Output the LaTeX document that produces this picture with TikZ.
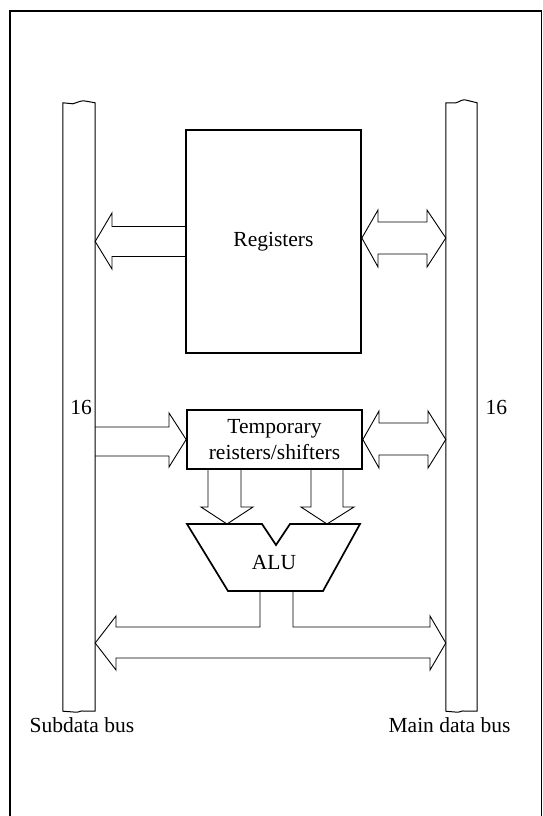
\documentclass[tikz,border=0pt]{standalone}
\usepackage{fontspec}
\setmainfont{Liberation Serif}
\usetikzlibrary{calc,positioning}

\tikzset{
  unitbox/.style={draw, line width=1.7pt, inner sep=0pt, align=center},
  busline/.style={line width=1pt},
  busnode/.style={inner sep=0pt, minimum width=32pt, minimum height=608pt},
  blockarrow/.style={line width=0.9pt, line join=miter},
}

\begin{document}
\begin{tikzpicture}[x=1pt, y=-1pt,
    every node/.style={font=\fontsize{21.5}{26}\selectfont}]
  \useasboundingbox (0,0) rectangle (543,816);
  % outer frame
  \draw[line width=1.1pt] (10,816) -- (10,11) -- (541.5,11) -- (541.5,816);

  % the two buses
  \node[busnode] (sub) at (79,407) {};
  \node[busnode, minimum width=31pt] (main) at (461.5,407) {};
  \draw[busline] (sub.south west) -- (sub.north west) -- ++(10,1)
        .. controls ++(4,-1) and ++(-4,0) .. ++(11,-3) -- (sub.north east)
        -- (sub.south east) -- ++(-11,0) .. controls ++(-4,-1) and ++(4,0) .. ++(-8,1)
        -- cycle;
  \draw[busline] (main.south west) -- (main.north west) -- ++(10,0)
        .. controls ++(4,-1) and ++(-4,0) .. ++(9,-3) -- (main.north east)
        -- (main.south east) -- ++(-12,0) .. controls ++(-4,-1) and ++(4,0) .. ++(-8,1)
        -- cycle;
  \node[below=3pt of sub.south, xshift=3pt] (sublbl) {Subdata bus};
  \node[below=3pt of main.south, xshift=-12pt] (mainlbl) {Main data bus};
  \node[anchor=center] (w1) at (81,407) {16};
  \node[anchor=west] (w2) at (482,407) {16};

  % boxes
  \node[unitbox, minimum width=175pt, minimum height=223pt] (reg) at (273.5,241.5) {Registers};
  \node[unitbox, minimum width=175pt, minimum height=59pt] (tmp) at (274.5,439.5)
        {Temporary\\reisters/shifters};

  % ALU
  \draw[line width=1.7pt, line join=miter] (187,524) -- (262,524) -- (276,545) -- (290,524)
        -- (360,524) -- (323,591) -- (228,591) -- cycle;
  \node (alu) at (274,563) {ALU};

  % registers -> subdata bus
  \draw[blockarrow] ($(reg.west)+(0,-15)$) -- (112,226.5) -- (112,213)
        -- (sub.east |- reg.west) -- (112,269) -- (112,256.5) -- ($(reg.west)+(0,15)$);
  % registers <-> main data bus
  \draw[blockarrow] (reg.east |- 0,238) -- (378,210) -- (378,222) -- (427,222) -- (427,210)
        -- (main.west |- 0,238) -- (427,267) -- (427,254) -- (378,254) -- (378,267) -- cycle;

  % subdata bus -> temporary registers
  \draw[blockarrow] (sub.east |- 0,427) -- (169,427) -- (169,413) -- (tmp.west)
        -- (169,467) -- (169,456) -- (sub.east |- 0,456);
  % temporary registers <-> main data bus
  \draw[blockarrow] (tmp.east) -- (379,411) -- (379,423) -- (428,423) -- (428,411)
        -- (main.west |- tmp.east) -- (428,468) -- (428,455) -- (379,455) -- (379,468) -- cycle;

  % temporary registers -> ALU
  \draw[blockarrow] (tmp.south -| 208,0) -- (208,507) -- (201,507) -- (227,524)
        -- (253,507) -- (241,507) -- (tmp.south -| 241,0);
  \draw[blockarrow] (tmp.south -| 311,0) -- (311,507) -- (301,507) -- (327,524)
        -- (354,507) -- (343,507) -- (tmp.south -| 343,0);

  % ALU -> both buses
  \draw[blockarrow] (260,591) -- (260,627) -- (116,627) -- (116,616) -- (sub.east |- 0,643)
        -- (116,670) -- (116,658) -- (430,658) -- (430,670) -- (main.west |- 0,643)
        -- (430,616) -- (430,627) -- (293,627) -- (293,591);
\end{tikzpicture}
\end{document}
